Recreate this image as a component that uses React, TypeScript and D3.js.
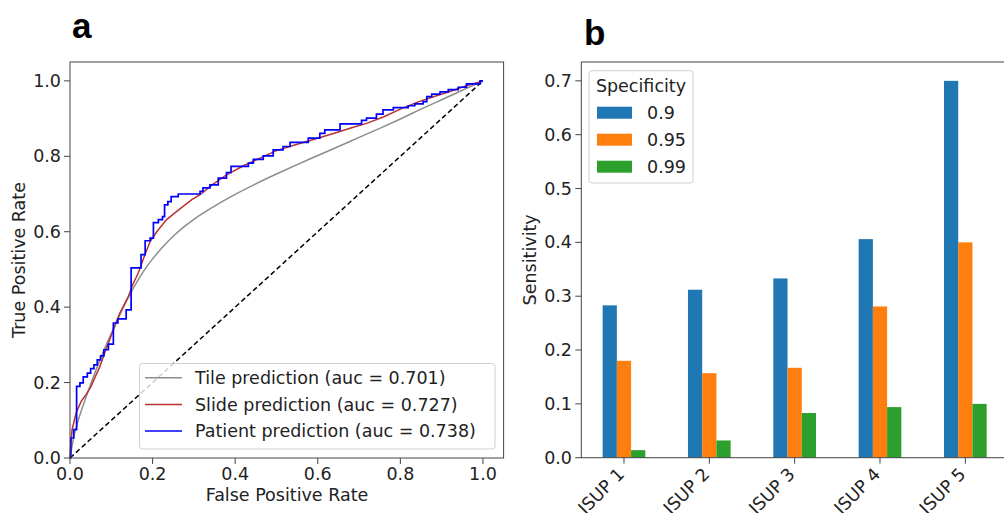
import React from 'react';
import * as d3 from 'd3';

// ROC curves (panel a)
const tileRoc: [number, number][] = [
  [0, 0], [0.01, 0.06], [0.02, 0.1], [0.04, 0.165], [0.06, 0.225], [0.08, 0.28], [0.1, 0.33],
  [0.12, 0.378], [0.14, 0.423], [0.16, 0.463], [0.18, 0.498], [0.2, 0.528], [0.225, 0.56],
  [0.25, 0.588], [0.275, 0.612], [0.3, 0.633], [0.35, 0.668], [0.4, 0.699], [0.45, 0.727],
  [0.5, 0.753], [0.55, 0.778], [0.6, 0.802], [0.65, 0.826], [0.7, 0.85], [0.75, 0.874],
  [0.8, 0.899], [0.85, 0.925], [0.9, 0.95], [0.95, 0.975], [1, 1],
];
const slideRoc: [number, number][] = [
  [0, 0], [0.002, 0.04], [0.005, 0.075], [0.015, 0.12], [0.027, 0.15], [0.04, 0.17],
  [0.051, 0.19], [0.061, 0.215], [0.071, 0.239], [0.087, 0.287], [0.1, 0.325], [0.111, 0.358],
  [0.121, 0.385], [0.131, 0.406], [0.142, 0.43], [0.152, 0.46], [0.165, 0.49], [0.18, 0.535],
  [0.194, 0.574], [0.21, 0.6], [0.234, 0.632], [0.254, 0.65], [0.274, 0.667], [0.295, 0.685],
  [0.315, 0.698], [0.345, 0.725], [0.379, 0.751], [0.42, 0.775], [0.46, 0.795], [0.5, 0.815],
  [0.55, 0.832], [0.6, 0.848], [0.64, 0.861], [0.68, 0.875], [0.72, 0.888], [0.76, 0.905],
  [0.8, 0.925], [0.84, 0.943], [0.88, 0.958], [0.92, 0.972], [0.96, 0.987], [1, 1],
];
const patientRoc: [number, number][] = [
  [0, 0], [0.002, 0.053], [0.009, 0.075], [0.016, 0.19], [0.024, 0.199], [0.032, 0.215],
  [0.042, 0.225], [0.05, 0.237], [0.058, 0.247], [0.066, 0.26], [0.074, 0.271], [0.082, 0.287],
  [0.093, 0.302], [0.105, 0.358], [0.116, 0.369], [0.136, 0.393], [0.148, 0.504], [0.172, 0.539],
  [0.182, 0.576], [0.194, 0.583], [0.202, 0.624], [0.214, 0.632], [0.224, 0.64], [0.229, 0.671],
  [0.237, 0.68], [0.245, 0.693], [0.262, 0.7], [0.315, 0.707], [0.322, 0.716], [0.339, 0.724],
  [0.359, 0.742], [0.379, 0.757], [0.39, 0.773], [0.432, 0.782], [0.444, 0.792], [0.468, 0.801],
  [0.492, 0.817], [0.516, 0.826], [0.533, 0.837], [0.577, 0.848], [0.605, 0.861], [0.617, 0.87],
  [0.654, 0.886], [0.706, 0.895], [0.718, 0.901], [0.742, 0.912], [0.758, 0.923], [0.783, 0.929],
  [0.819, 0.934], [0.835, 0.939], [0.855, 0.945], [0.864, 0.958], [0.876, 0.965], [0.896, 0.971],
  [0.916, 0.977], [0.94, 0.983], [0.96, 0.992], [0.993, 1], [1, 1],
];
const rocLabels = ['Tile prediction (auc = 0.701)', 'Slide prediction (auc = 0.727)', 'Patient prediction (auc = 0.738)'];
const rocTicks = [0, 0.2, 0.4, 0.6, 0.8, 1.0];

// Sensitivity bars (panel b)
const grades = ['ISUP 1', 'ISUP 2', 'ISUP 3', 'ISUP 4', 'ISUP 5'];
const specificities = ['0.9', '0.95', '0.99'];
const sens90 = [0.283, 0.312, 0.333, 0.406, 0.7];
const sens95 = [0.18, 0.157, 0.167, 0.281, 0.4];
const sens99 = [0.014, 0.032, 0.083, 0.094, 0.1];
const sensTicks = [0, 0.1, 0.2, 0.3, 0.4, 0.5, 0.6, 0.7];

const FONT = 'DejaVu Sans';
const FS = 17.5;
const SPINE = '#444';

function RocPanel() {
  const x = d3.scaleLinear().domain([0, 1.05]).range([70, 503.6]);
  const y = d3.scaleLinear().domain([0, 1.05]).range([458, 62]);
  const lineSmooth = d3.line<[number, number]>().x(d => x(d[0])).y(d => y(d[1])).curve(d3.curveMonotoneX);
  const lineLin = d3.line<[number, number]>().x(d => x(d[0])).y(d => y(d[1]));
  const lineStep = d3.line<[number, number]>().x(d => x(d[0])).y(d => y(d[1])).curve(d3.curveStepAfter);
  const series = [
    { d: lineSmooth(tileRoc), color: '#8c8c8c' },
    { d: lineLin(slideRoc), color: '#b83232' },
    { d: lineStep(patientRoc), color: '#0000ff' },
  ];
  const fmt = d3.format('.1f');
  const lx = 139.5, ly = 363.5;
  return (
    <g fontFamily={FONT} fontSize={FS} fill="#222">
      <text x={72} y={38} fontFamily="Liberation Sans" fontWeight="bold" fontSize={35} fill="#000">a</text>
      <path d={lineLin([[0, 0], [1, 1]]) || ''} stroke="#000" strokeWidth={1.5} strokeDasharray="5,3" fill="none" />
      {series.map((s, i) => (
        <path key={i} d={s.d || ''} stroke={s.color} strokeWidth={i === 2 ? 1.7 : 1.5} fill="none" />
      ))}
      <rect x={x.range()[0]} y={y.range()[1]} width={x.range()[1] - x.range()[0]} height={y.range()[0] - y.range()[1]}
        fill="none" stroke={SPINE} strokeWidth={1} />
      {rocTicks.map(t => (
        <g key={'x' + t}>
          <line x1={x(t)} x2={x(t)} y1={458} y2={464} stroke={SPINE} />
          <text x={x(t)} y={480} textAnchor="middle">{fmt(t)}</text>
        </g>
      ))}
      {rocTicks.map(t => (
        <g key={'y' + t}>
          <line x1={64} x2={70} y1={y(t)} y2={y(t)} stroke={SPINE} />
          <text x={61} y={y(t) + 6} textAnchor="end">{fmt(t)}</text>
        </g>
      ))}
      <text x={287} y={501} textAnchor="middle">False Positive Rate</text>
      <text transform={`translate(25,${(458 + 62) / 2}) rotate(-90)`} textAnchor="middle">True Positive Rate</text>
      <rect x={lx} y={ly} width={355.5} height={85.5} rx={3} fill="#fff" fillOpacity={0.8} stroke="#d0d0d0" />
      {rocLabels.map((lab, i) => (
        <g key={lab}>
          <line x1={145} x2={182} y1={377.7 + i * 26.7} y2={377.7 + i * 26.7} stroke={series[i].color} strokeWidth={1.5} />
          <text x={195} y={377.7 + i * 26.7 + 6.3}>{lab}</text>
        </g>
      ))}
    </g>
  );
}

function BarPanel() {
  const x = d3.scaleLinear().domain([-0.5, 4.5]).range([581.3, 1008]);
  const y = d3.scaleLinear().domain([0, 0.735]).range([457.7, 62]);
  const colors = ['#1f77b4', '#ff7f0e', '#2ca02c'];
  const values = [sens90, sens95, sens99];
  const w = 0.5 / 3;
  const fmt = d3.format('.1f');
  return (
    <g fontFamily={FONT} fontSize={FS} fill="#222">
      <text x={584} y={45} fontFamily="Liberation Sans" fontWeight="bold" fontSize={35} fill="#000">b</text>
      {values.map((vals, j) =>
        vals.map((v, i) => {
          const cx = i + (j - 1) * w;
          return (
            <rect key={j + '-' + i} x={x(cx - w / 2)} y={y(v)} width={x(cx + w / 2) - x(cx - w / 2)}
              height={y(0) - y(v)} fill={colors[j]} />
          );
        })
      )}
      <rect x={x.range()[0]} y={y.range()[1]} width={x.range()[1] - x.range()[0]} height={y.range()[0] - y.range()[1]}
        fill="none" stroke={SPINE} strokeWidth={1} />
      {grades.map((g, i) => (
        <g key={g}>
          <line x1={x(i)} x2={x(i)} y1={457.7} y2={463.7} stroke={SPINE} />
          <text transform={`translate(${x(i) - 3},${471}) rotate(-45)`} textAnchor="end" dy="0.35em">{g}</text>
        </g>
      ))}
      {sensTicks.map(t => (
        <g key={'y' + t}>
          <line x1={575.3} x2={581.3} y1={y(t)} y2={y(t)} stroke={SPINE} />
          <text x={572} y={y(t) + 6} textAnchor="end">{fmt(t)}</text>
        </g>
      ))}
      <text transform={`translate(536,${(457.7 + 62) / 2}) rotate(-90)`} textAnchor="middle">Sensitivity</text>
      <rect x={589} y={70.7} width={104} height={112.3} rx={3} fill="#fff" fillOpacity={0.8} stroke="#d0d0d0" />
      <text x={641} y={91.5} textAnchor="middle">Specificity</text>
      {specificities.map((s, j) => (
        <g key={s}>
          <rect x={597} y={106.7 + j * 27} width={35} height={12} fill={colors[j]} />
          <text x={647} y={118.5 + j * 27}>{s}</text>
        </g>
      ))}
    </g>
  );
}

export default function App() {
  return (
    <div style={{ position: 'fixed', left: 0, top: 0 }}>
      <svg width={1004} height={513} style={{ display: 'block', background: '#fff' }}>
        <RocPanel />
        <BarPanel />
      </svg>
    </div>
  );
}
